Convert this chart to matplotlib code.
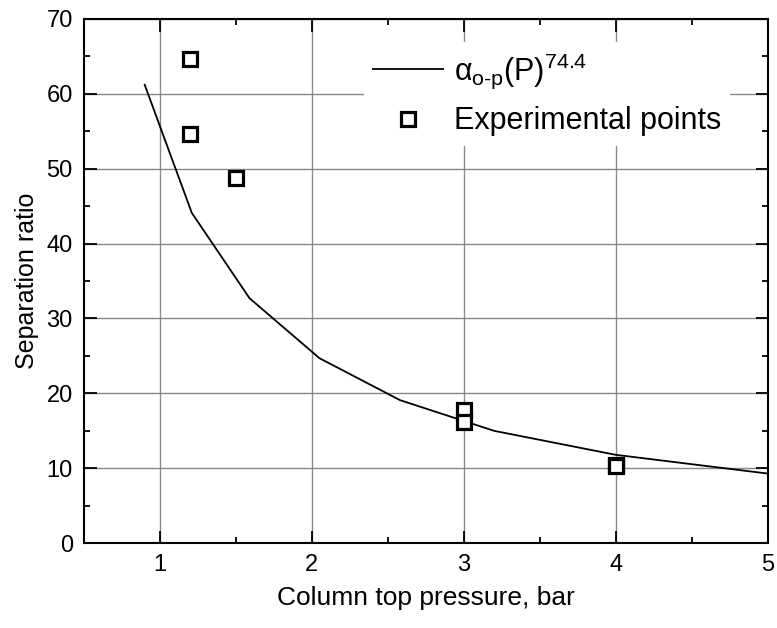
import matplotlib
matplotlib.use("Agg")
import matplotlib.pyplot as plt
from matplotlib.ticker import MultipleLocator

plt.rcParams['font.family'] = ['Liberation Sans', 'DejaVu Sans']
plt.rcParams['mathtext.fontset'] = 'custom'
plt.rcParams['mathtext.rm'] = 'Liberation Sans'
plt.rcParams['mathtext.it'] = 'Liberation Sans'
plt.rcParams['mathtext.bf'] = 'Liberation Sans:bold'

# Fitted curve alpha_{o-p}(P)^74.4
curve_p = [0.9, 1.21, 1.59, 2.05, 2.58, 3.2, 4.0, 5.0]
curve_ratio = [61.2, 44.1, 32.7, 24.7, 19.1, 15.0, 11.8, 9.3]

# Experimental points
exp_p = [1.2, 1.2, 1.5, 3.0, 3.0, 4.0, 4.0]
exp_ratio = [64.6, 54.6, 48.7, 17.8, 16.2, 10.5, 10.3]

fig = plt.figure(figsize=(7.77, 6.28), dpi=100)
ax = fig.add_axes([0.108, 0.135, 0.880, 0.835])

ax.plot(curve_p, curve_ratio, color='black', lw=1.3,
        label=r'$\alpha_{\mathrm{o\text{-}p}}\mathrm{(P)}^{74.4}$')
ax.plot(exp_p, exp_ratio, linestyle='none', marker='s', markersize=9.5,
        markerfacecolor='white', markeredgecolor='black', markeredgewidth=2.3,
        label='Experimental points')

ax.set_xlim(0.5, 5)
ax.set_ylim(0, 70)
ax.xaxis.set_major_locator(MultipleLocator(1))
ax.xaxis.set_minor_locator(MultipleLocator(0.5))
ax.yaxis.set_major_locator(MultipleLocator(10))
ax.yaxis.set_minor_locator(MultipleLocator(5))
ax.grid(True, which='major', color='#888888', lw=1.0)
ax.set_axisbelow(True)
ax.tick_params(which='both', direction='in', top=True, right=True, labelsize=17, width=1.3)
ax.tick_params(which='major', length=9, pad=8)
ax.tick_params(which='minor', length=4)
for s in ax.spines.values():
    s.set_linewidth(1.5)

ax.set_xlabel('Column top pressure, bar', fontsize=19, labelpad=7)
ax.set_ylabel('Separation ratio', fontsize=18, labelpad=5)

leg = ax.legend(loc='upper right', bbox_to_anchor=(0.945, 0.955), fontsize=22,
                frameon=True, framealpha=1, edgecolor='none', fancybox=False,
                handlelength=2.3, handletextpad=0.35, labelspacing=0.5,
                borderpad=0.3, borderaxespad=0)

fig.savefig('out.png', dpi=100)
